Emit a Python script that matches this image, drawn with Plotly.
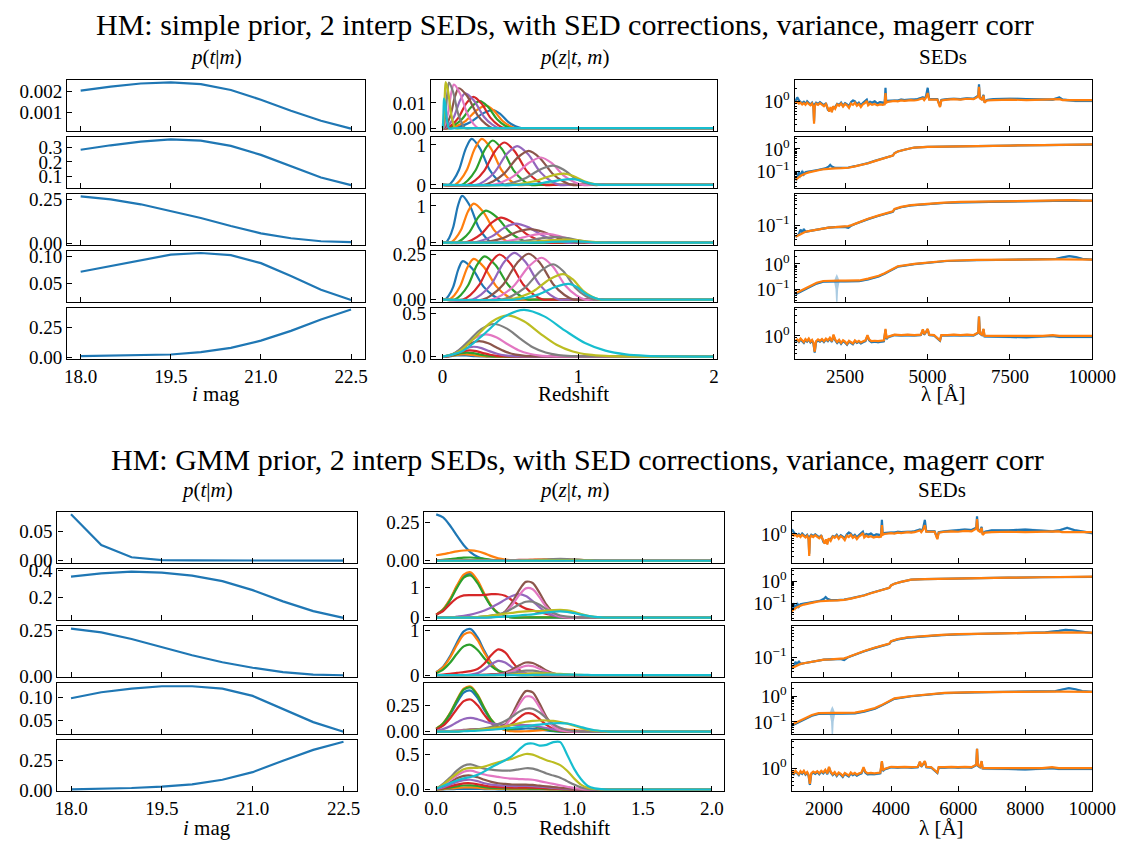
import numpy as np
import plotly.graph_objects as go

FIG_W, FIG_H = 1142, 853
SERIF = "Liberation Serif, Times New Roman, DejaVu Serif, serif"
TAB10 = ['#1f77b4', '#ff7f0e', '#2ca02c', '#d62728', '#9467bd',
         '#8c564b', '#e377c2', '#7f7f7f', '#bcbd22', '#17becf']

# ---------------------------------------------------------------- p(t|m)
i_mag = [18.0, 18.5, 19.0, 19.5, 20.0, 20.5, 21.0, 21.5, 22.0, 22.5]

ptm_simple = [
    [0.00203, 0.00222, 0.00237, 0.00242, 0.00234, 0.00206, 0.0016, 0.00108, 0.0006, 0.00023],
    [0.284, 0.315, 0.34, 0.356, 0.347, 0.311, 0.249, 0.173, 0.093, 0.04],
    [0.267, 0.25, 0.222, 0.185, 0.144, 0.098, 0.056, 0.028, 0.011, 0.006],
    [0.0719, 0.083, 0.094, 0.104, 0.107, 0.103, 0.088, 0.064, 0.038, 0.019],
    [0.008, 0.011, 0.014, 0.022, 0.042, 0.078, 0.139, 0.222, 0.319, 0.403],
]
ptm_gmm = [
    [0.080, 0.027, 0.0057, 0.0008, 0.0002, 0.0001, 0.0, 0.0, 0.0, 0.0],
    [0.354, 0.378, 0.39, 0.383, 0.361, 0.32, 0.253, 0.169, 0.096, 0.046],
    [0.259, 0.238, 0.202, 0.157, 0.113, 0.075, 0.045, 0.021, 0.007, 0.004],
    [0.098, 0.111, 0.119, 0.124, 0.124, 0.119, 0.103, 0.075, 0.046, 0.025],
    [0.008, 0.011, 0.019, 0.031, 0.05, 0.089, 0.153, 0.25, 0.342, 0.411],
]

# ---------------------------------------------------- p(z|t,m), simple prior
# one (z, p) curve per magnitude bin, 18.0 ... 22.5
pz_simple_1_z = [
    [0, .07, .13, .205, .295, .37, .423, .486, .538, .58, .64, 2.0],
    [0, .05, .104, .172, .253, .32, .375, .441, .496, .54, .60, 2.0],
    [0, .035, .083, .143, .215, .275, .333, .402, .459, .505, .565, 2.0],
    [0, .027, .067, .117, .177, .227, .285, .354, .411, .457, .517, 2.0],
    [0, .017, .047, .085, .13, .167, .23, .305, .367, .417, .477, 2.0],
    [0, .01, .032, .06, .093, .12, .183, .258, .32, .37, .43, 2.0],
    [0, .004, .02, .04, .064, .084, .129, .183, .228, .264, .324, 2.0],
    [0, .003, .012, .023, .037, .048, .078, .114, .144, .168, .228, 2.0],
    [0, .002, .0064, .0119, .0185, .024, .0415, .0625, .08, .094, .154, 2.0],
    [0, .001, .0032, .006, .0093, .012, .0208, .0313, .04, .047, .107, 2.0],
]
pz_simple_1_p = [
    [0, 0, .00072, .00238, .00576, .0072, .00576, .00238, .00072, 0, 0, 0],
    [0, 0, .00089, .00294, .00712, .0089, .00712, .00294, .00089, 0, 0, 0],
    [0, 0, .00107, .00353, .00856, .0107, .00856, .00353, .00107, 0, 0, 0],
    [0, 0, .00124, .00409, .00992, .0124, .00992, .00409, .00124, 0, 0, 0],
    [0, 0, .00138, .00455, .01104, .0138, .01104, .00455, .00138, 0, 0, 0],
    [0, 0, .00158, .00521, .01264, .0158, .01264, .00521, .00158, 0, 0, 0],
    [0, 0, .00172, .00568, .01376, .0172, .01376, .00568, .00172, 0, 0, 0],
    [0, 0, .0018, .00594, .0144, .018, .0144, .00594, .0018, 0, 0, 0],
    [0, 0, .00182, .00601, .01456, .0182, .01456, .00601, .00182, 0, 0, 0],
    [0, 0, .00117, .00386, .00936, .0117, .00936, .00386, .00117, 0, 0, 0],
]

pz_simple_2_z = [
    [0, .045, .079, .122, .173, .215, .275, .347, .407, .455, .515, 2.0],
    [0, .09, .13, .18, .24, .29, .355, .433, .498, .55, .61, 2.0],
    [0, .14, .186, .244, .313, .37, .44, .524, .594, .65, .71, 2.0],
    [0, .185, .239, .307, .388, .455, .53, .62, .695, .755, .815, 2.0],
    [0, .25, .31, .385, .475, .55, .628, .721, .798, .86, .92, 2.0],
    [0, .305, .371, .454, .553, .635, .715, .811, .891, .955, 1.015, 2.0],
    [0, .365, .437, .527, .635, .725, .803, .896, .973, 1.035, 1.095, 2.0],
    [0, .435, .511, .606, .72, .815, .89, .98, 1.055, 1.115, 1.175, 2.0],
    [0, .495, .575, .675, .795, .895, .963, 1.044, 1.111, 1.165, 1.225, 2.0],
    [0, .555, .635, .735, .855, .955, 1.01, 1.076, 1.131, 1.175, 1.235, 2.0],
]
pz_simple_2_p = [
    [0, 0, .115, .38, .92, 1.15, .92, .38, .115, 0, 0, 0],
    [0, 0, .115, .38, .92, 1.15, .92, .38, .115, 0, 0, 0],
    [0, 0, .111, .366, .888, 1.11, .888, .366, .111, 0, 0, 0],
    [0, 0, .106, .35, .848, 1.06, .848, .35, .106, 0, 0, 0],
    [0, 0, .097, .32, .776, .97, .776, .32, .097, 0, 0, 0],
    [0, 0, .085, .281, .68, .85, .68, .281, .085, 0, 0, 0],
    [0, 0, .069, .226, .548, .685, .548, .226, .069, 0, 0, 0],
    [0, 0, .048, .158, .384, .48, .384, .158, .048, 0, 0, 0],
    [0, 0, .028, .092, .224, .28, .224, .092, .028, 0, 0, 0],
    [0, 0, .0145, .048, .116, .145, .116, .048, .0145, 0, 0, 0],
]

pz_simple_3_z = [
    [0, .025, .049, .079, .115, .145, .2, .266, .321, .365, .425, 2.0],
    [0, .06, .094, .137, .188, .23, .298, .379, .446, .5, .56, 2.0],
    [0, .1, .144, .199, .265, .32, .4, .496, .576, .64, .7, 2.0],
    [0, .16, .214, .282, .363, .43, .518, .623, .71, .78, .84, 2.0],
    [0, .22, .284, .364, .46, .54, .635, .749, .844, .92, .98, 2.0],
    [0, .275, .349, .442, .553, .645, .74, .854, .949, 1.025, 1.085, 2.0],
    [0, .35, .43, .53, .65, .75, .843, .954, 1.046, 1.12, 1.18, 2.0],
    [0, .42, .504, .609, .735, .84, .923, 1.022, 1.104, 1.17, 1.23, 2.0],
    [0, .49, .574, .679, .805, .91, .985, 1.075, 1.15, 1.21, 1.27, 2.0],
    [0, .57, .65, .75, .87, .97, 1.033, 1.108, 1.17, 1.22, 1.28, 2.0],
]
pz_simple_3_p = [
    [0, 0, .127, .419, 1.016, 1.27, 1.016, .419, .127, 0, 0, 0],
    [0, 0, .106, .35, .848, 1.06, .848, .35, .106, 0, 0, 0],
    [0, 0, .087, .287, .696, .87, .696, .287, .087, 0, 0, 0],
    [0, 0, .068, .224, .544, .68, .544, .224, .068, 0, 0, 0],
    [0, 0, .052, .172, .416, .52, .416, .172, .052, 0, 0, 0],
    [0, 0, .037, .122, .296, .37, .296, .122, .037, 0, 0, 0],
    [0, 0, .0245, .081, .196, .245, .196, .081, .0245, 0, 0, 0],
    [0, 0, .0155, .051, .124, .155, .124, .051, .0155, 0, 0, 0],
    [0, 0, .0085, .028, .068, .085, .068, .028, .0085, 0, 0, 0],
    [0, 0, .0035, .0116, .028, .035, .028, .0116, .0035, 0, 0, 0],
]

pz_simple_4_z = [
    [0, .02, .046, .079, .118, .15, .22, .304, .374, .43, .49, 2.0],
    [0, .05, .086, .131, .185, .23, .305, .395, .47, .53, .59, 2.0],
    [0, .09, .134, .189, .255, .31, .39, .486, .566, .63, .69, 2.0],
    [0, .15, .204, .272, .353, .42, .5, .596, .676, .74, .8, 2.0],
    [0, .22, .282, .36, .453, .53, .613, .712, .794, .86, .92, 2.0],
    [0, .295, .363, .448, .55, .635, .718, .817, .899, .965, 1.025, 2.0],
    [0, .36, .434, .527, .638, .73, .81, .906, .986, 1.05, 1.11, 2.0],
    [0, .435, .511, .606, .72, .815, .89, .98, 1.055, 1.115, 1.175, 2.0],
    [0, .49, .57, .67, .79, .89, .958, 1.039, 1.106, 1.16, 1.22, 2.0],
    [0, .53, .61, .71, .83, .93, .99, 1.062, 1.122, 1.17, 1.23, 2.0],
]
pz_simple_4_p = [
    [0, 0, .0213, .0703, .1704, .213, .1704, .0703, .0213, 0, 0, 0],
    [0, 0, .0226, .0746, .1808, .226, .1808, .0746, .0226, 0, 0, 0],
    [0, 0, .024, .0792, .192, .24, .192, .0792, .024, 0, 0, 0],
    [0, 0, .025, .0825, .2, .25, .2, .0825, .025, 0, 0, 0],
    [0, 0, .0259, .0855, .2072, .259, .2072, .0855, .0259, 0, 0, 0],
    [0, 0, .0254, .0838, .2032, .254, .2032, .0838, .0254, 0, 0, 0],
    [0, 0, .0232, .0766, .1856, .232, .1856, .0766, .0232, 0, 0, 0],
    [0, 0, .0196, .0647, .1568, .196, .1568, .0647, .0196, 0, 0, 0],
    [0, 0, .0141, .0465, .1128, .141, .1128, .0465, .0141, 0, 0, 0],
    [0, 0, .0087, .0287, .0696, .087, .0696, .0287, .0087, 0, 0, 0],
]

pz_simple_5_z = [
    [0, .035, .07, .105, .14, .175, .21, .245, .28, .315, .35, .392, 2.0],
    [0, .04, .08, .12, .16, .2, .24, .28, .32, .36, .4, .448, 2.0],
    [0, .045, .09, .135, .18, .225, .27, .315, .36, .405, .45, .504, 2.0],
    [0, .05, .1, .15, .2, .25, .3, .35, .4, .45, .5, .56, 2.0],
    [0, .0575, .115, .1725, .23, .2875, .345, .4025, .46, .5175, .575, .644, 2.0],
    [0, .0675, .135, .2025, .27, .3375, .405, .4725, .54, .6075, .675, .756, 2.0],
    [0, .08, .16, .24, .32, .4, .48, .56, .64, .72, .8, .896, 2.0],
    [0, .095, .19, .285, .38, .475, .57, .665, .76, .855, .95, 1.064, 2.0],
    [0, .12, .24, .36, .48, .6, .72, .84, .96, 1.08, 1.2, 1.344, 2.0],
    [0, .15, .3, .45, .6, .75, .9, 1.05, 1.2, 1.35, 1.5, 1.68, 2.0],
]
pz_simple_5_p = [
    [0, .002, .007, .013, .015, .013, .008, .004, .002, .001, 0, 0, 0],
    [0, .003, .013, .023, .027, .023, .015, .008, .003, .001, 0, 0, 0],
    [0, .006, .021, .039, .046, .04, .026, .013, .006, .002, .001, 0, 0],
    [0, .009, .034, .061, .073, .063, .041, .021, .009, .004, .001, 0, 0],
    [0, .014, .054, .097, .115, .099, .064, .033, .014, .006, .002, 0, 0],
    [0, .022, .084, .152, .18, .155, .101, .052, .023, .009, .003, .001, 0],
    [0, .031, .12, .217, .258, .222, .144, .075, .033, .012, .004, .001, 0],
    [0, .046, .177, .32, .38, .326, .213, .11, .048, .018, .006, .002, 0],
    [0, .058, .224, .404, .48, .412, .269, .139, .06, .023, .008, .002, 0],
    [0, .066, .254, .46, .546, .469, .306, .158, .069, .026, .009, .002, 0],
]

# ------------------------------------------------------- p(z|t,m), GMM prior
z_gmm = [0.0, 0.05, 0.1, 0.15, 0.2, 0.25, 0.3, 0.35, 0.4, 0.45,
         0.5, 0.55, 0.6, 0.65, 0.7, 0.75, 0.8, 0.85, 0.9, 0.95,
         1.0, 1.05, 1.1, 1.15, 1.2, 1.25, 1.3, 2.0]

pz_gmm_1 = [
    [.303, .283, .23, .164, .101, .055, .026, .011, .004, .001, 0, 0, 0, 0, 0, 0, 0, 0, 0, 0, 0, 0, 0, 0, 0, 0, 0, 0],
    [.036, .043, .052, .061, .067, .068, .062, .048, .03, .016, .008, .004, .003, .004, .006, .008, .009, .01, .01, .009, .007, .005, .003, .001, 0, 0, 0, 0],
    [.003, .006, .011, .016, .02, .021, .018, .012, .006, .003, .001, 0, 0, .001, .001, .002, .002, .002, .002, .002, .001, .001, 0, 0, 0, 0, 0, 0],
    [0, 0, .001, .001, .002, .002, .002, .002, .003, .003, .004, .004, .005, .005, .005, .005, .004, .004, .003, .002, .001, .001, 0, 0, 0, 0, 0, 0],
    [0, 0, 0, 0, 0, .001, .001, .001, .001, .001, .001, .001, .001, .001, .001, .001, .001, .001, .001, 0, 0, 0, 0, 0, 0, 0, 0, 0],
    [0, 0, 0, 0, 0, 0, 0, 0, 0, .001, .001, .002, .002, .003, .003, .002, .002, .001, .001, 0, 0, 0, 0, 0, 0, 0, 0, 0],
    [0, 0, 0, 0, 0, 0, 0, 0, 0, 0, 0, .001, .001, .001, .002, .002, .002, .002, .002, .001, .001, 0, 0, 0, 0, 0, 0, 0],
    [0, 0, 0, 0, 0, 0, 0, 0, 0, 0, 0, 0, 0, .001, .003, .005, .008, .011, .012, .011, .009, .006, .003, .001, 0, 0, 0, 0],
    [0, 0, 0, 0, 0, 0, 0, 0, 0, 0, 0, 0, 0, .001, .001, .002, .002, .003, .003, .003, .002, .001, .001, 0, 0, 0, 0, 0],
    [0, 0, 0, 0, 0, 0, 0, 0, 0, 0, 0, 0, 0, 0, 0, 0, 0, 0, 0, 0, 0, 0, 0, 0, 0, 0, 0, 0],
]
pz_gmm_2 = [
    [.093, .268, .595, 1.032, 1.391, 1.464, 1.199, .764, .38, .147, .044, .01, 0, 0, 0, 0, 0, 0, 0, 0, 0, 0, 0, 0, 0, 0, 0, 0],
    [.096, .277, .615, 1.066, 1.438, 1.513, 1.239, .789, .393, .151, .046, .011, .005, .008, .012, .016, .018, .017, .014, .01, .006, .003, .001, 0, 0, 0, 0, 0],
    [.089, .257, .571, .99, 1.335, 1.404, 1.15, .733, .365, .141, .043, .01, .002, .004, .006, .008, .008, .007, .005, .003, .001, 0, 0, 0, 0, 0, 0, 0],
    [.1, .22, .45, .65, .74, .75, .75, .76, .78, .78, .73, .58, .42, .3, .24, .18, .12, .07, .035, .012, .003, 0, 0, 0, 0, 0, 0, 0],
    [0, 0, 0, .03, .06, .1, .16, .24, .34, .46, .6, .72, .78, .72, .55, .34, .17, .07, .02, .005, 0, 0, 0, 0, 0, 0, 0, 0],
    [0, 0, 0, 0, 0, 0, .002, .005, .013, .061, .205, .501, .902, 1.191, 1.154, .822, .429, .165, .046, .01, 0, 0, 0, 0, 0, 0, 0, 0],
    [0, 0, 0, 0, 0, 0, .002, .004, .011, .05, .168, .411, .739, .976, .946, .674, .352, .135, .038, .008, 0, 0, 0, 0, 0, 0, 0, 0],
    [0, 0, 0, 0, 0, .01, .02, .04, .07, .11, .18, .3, .43, .53, .53, .43, .28, .15, .07, .03, .01, 0, 0, 0, 0, 0, 0, 0],
    [0, 0, 0, 0, 0, 0, .02, .04, .07, .1, .13, .16, .19, .21, .22, .22, .23, .25, .26, .24, .19, .12, .06, .025, .008, 0, 0, 0],
    [0, 0, 0, 0, 0, 0, 0, 0, .01, .02, .035, .05, .07, .09, .11, .14, .17, .195, .205, .19, .15, .1, .055, .025, .008, 0, 0, 0],
]
pz_gmm_3 = [
    [.065, .187, .416, .721, .973, 1.024, .838, .534, .266, .102, .031, .007, 0, 0, 0, 0, 0, 0, 0, 0, 0, 0, 0, 0, 0, 0, 0, 0],
    [.06, .174, .386, .669, .902, .949, .778, .495, .247, .095, .029, .007, 0, 0, 0, 0, 0, 0, 0, 0, 0, 0, 0, 0, 0, 0, 0, 0],
    [.043, .123, .273, .474, .639, .673, .56, .37, .2, .1, .05, .02, .005, 0, 0, 0, 0, 0, 0, 0, 0, 0, 0, 0, 0, 0, 0, 0],
    [.004, .013, .028, .049, .066, .087, .134, .258, .448, .572, .505, .303, .123, .034, .006, 0, 0, 0, 0, 0, 0, 0, 0, 0, 0, 0, 0, 0],
    [0, 0, 0, 0, 0, .01, .043, .124, .242, .317, .282, .17, .08, .04, .03, .02, .01, 0, 0, 0, 0, 0, 0, 0, 0, 0, 0, 0],
    [0, 0, 0, 0, 0, 0, .005, .01, .02, .03, .06, .125, .215, .28, .27, .195, .105, .04, .012, .003, 0, 0, 0, 0, 0, 0, 0, 0],
    [0, 0, 0, 0, 0, 0, 0, 0, .003, .011, .035, .086, .155, .205, .199, .142, .074, .028, .008, .002, 0, 0, 0, 0, 0, 0, 0, 0],
    [0, 0, 0, 0, 0, 0, 0, 0, 0, .005, .02, .045, .075, .098, .098, .075, .045, .022, .01, .004, 0, 0, 0, 0, 0, 0, 0, 0],
    [0, 0, 0, 0, 0, 0, 0, 0, 0, 0, 0, .01, .02, .03, .038, .04, .038, .032, .025, .015, .008, .003, 0, 0, 0, 0, 0, 0],
    [0, 0, 0, 0, 0, 0, 0, 0, 0, 0, 0, 0, 0, 0, .004, .006, .009, .011, .012, .011, .009, .006, .003, 0, 0, 0, 0, 0],
]
pz_gmm_4 = [
    [.025, .071, .157, .272, .367, .386, .316, .201, .1, .04, .017, .015, .022, .029, .028, .02, .011, .004, 0, 0, 0, 0, 0, 0, 0, 0, 0, 0],
    [.027, .078, .173, .3, .404, .425, .348, .222, .111, .043, .013, .003, .001, .003, .006, .01, .015, .019, .02, .019, .015, .01, .006, .003, 0, 0, 0, 0],
    [.026, .076, .169, .293, .395, .415, .34, .217, .109, .045, .022, .026, .041, .054, .052, .037, .019, .007, .002, 0, 0, 0, 0, 0, 0, 0, 0, 0],
    [.019, .055, .123, .213, .287, .302, .247, .157, .08, .039, .038, .074, .129, .171, .166, .118, .062, .024, .007, .001, 0, 0, 0, 0, 0, 0, 0, 0],
    [.008, .023, .05, .087, .118, .129, .116, .095, .077, .067, .064, .063, .062, .06, .055, .045, .033, .02, .01, .004, 0, 0, 0, 0, 0, 0, 0, 0],
    [0, 0, .005, .01, .015, .02, .022, .022, .024, .038, .066, .16, .288, .381, .369, .263, .137, .053, .015, .003, 0, 0, 0, 0, 0, 0, 0, 0],
    [0, 0, .004, .008, .012, .015, .017, .018, .02, .03, .057, .139, .25, .33, .32, .228, .119, .046, .013, .003, 0, 0, 0, 0, 0, 0, 0, 0],
    [0, 0, 0, 0, .01, .015, .02, .03, .045, .07, .1, .14, .185, .215, .215, .18, .125, .07, .035, .015, .005, 0, 0, 0, 0, 0, 0, 0],
    [0, 0, 0, 0, .005, .01, .015, .022, .03, .04, .05, .062, .078, .092, .1, .104, .104, .1, .09, .075, .055, .035, .018, .008, .003, 0, 0, 0],
    [0, 0, 0, 0, .003, .005, .008, .012, .017, .022, .028, .035, .042, .05, .058, .066, .073, .078, .08, .076, .062, .043, .025, .012, .005, 0, 0, 0],
]
pz_gmm_5 = [
    [0, .002, .005, .008, .01, .01, .008, .006, .004, .003, .002, .002, .002, .002, .002, .001, 0, 0, 0, 0, 0, 0, 0, 0, 0, 0, 0, 0],
    [.001, .006, .014, .023, .029, .03, .025, .017, .011, .008, .007, .006, .006, .006, .005, .004, .003, .002, 0, 0, 0, 0, 0, 0, 0, 0, 0, 0],
    [.002, .012, .028, .045, .057, .06, .05, .035, .024, .018, .015, .014, .014, .014, .013, .011, .008, .005, .003, 0, 0, 0, 0, 0, 0, 0, 0, 0],
    [.003, .02, .045, .07, .088, .09, .075, .055, .04, .033, .03, .028, .028, .028, .026, .022, .017, .012, .008, .004, 0, 0, 0, 0, 0, 0, 0, 0],
    [.005, .03, .07, .11, .135, .14, .12, .09, .07, .06, .055, .05, .05, .05, .047, .04, .032, .024, .016, .009, .004, 0, 0, 0, 0, 0, 0, 0],
    [.01, .05, .1, .16, .195, .2, .175, .14, .11, .09, .08, .072, .07, .07, .065, .055, .045, .035, .025, .015, .007, 0, 0, 0, 0, 0, 0, 0],
    [.01, .06, .13, .2, .255, .27, .245, .215, .195, .18, .165, .155, .15, .145, .14, .12, .1, .08, .06, .04, .02, .008, 0, 0, 0, 0, 0, 0],
    [.01, .08, .17, .27, .34, .36, .33, .3, .285, .275, .27, .275, .29, .305, .3, .27, .23, .2, .17, .12, .07, .03, .01, 0, 0, 0, 0, 0],
    [.01, .07, .15, .23, .29, .31, .31, .33, .36, .39, .42, .44, .48, .51, .5, .46, .42, .39, .35, .27, .16, .07, .025, .007, 0, 0, 0, 0],
    [.01, .05, .09, .13, .16, .18, .21, .26, .32, .37, .42, .48, .57, .65, .66, .63, .64, .68, .68, .5, .3, .15, .05, .015, .004, 0, 0, 0],
]

# ------------------------------------------------------------------ SEDs
# wavelengths in Angstrom, fluxes stored as log10(f)
sed_wave_1 = [1000, 1050, 1100, 1150, 1200, 1250, 1300, 1350, 1400, 1450,
              1500, 1540, 1560, 1580, 1620, 1680, 1740, 1800, 1860, 1920,
              1980, 2020, 2060, 2100, 2140, 2200, 2260, 2320, 2380, 2440,
              2500, 2560, 2620, 2680, 2740, 2800, 2860, 2920, 2980, 3040,
              3100, 3160, 3200, 3260, 3320, 3400, 3480, 3560, 3640, 3700,
              3727, 3750, 3800, 3900, 4000, 4100, 4200, 4300, 4400, 4500,
              4600, 4700, 4861, 4900, 4959, 5007, 5050, 5200, 5300, 5380,
              5420, 5600, 5800, 6000, 6200, 6400, 6540, 6563, 6590, 6650,
              6700, 6730, 6800, 7000, 7500, 8000, 8500, 8800, 9000, 9100,
              9250, 9500, 10000]
sed_orange_1 = [-0.03, 0.00, -0.04, -0.02, -0.06, -0.03, -0.07, -0.02, -0.05, -0.08,
                -0.04, -0.12, -0.50, -0.10, -0.04, -0.07, -0.03, -0.06, -0.10, -0.05,
                -0.14, -0.22, -0.12, -0.24, -0.10, -0.16, -0.06, -0.09, -0.04, -0.11,
                -0.05, -0.08, -0.14, -0.04, -0.07, -0.02, -0.09, -0.05, -0.12, -0.06,
                -0.03, 0.02, -0.08, -0.04, -0.07, -0.05, -0.08, -0.06, -0.07, -0.06,
                0.20, -0.02, 0.00, 0.01, 0.02, 0.01, 0.03, 0.02, 0.03, 0.04,
                0.03, 0.04, 0.08, 0.04, 0.10, 0.20, 0.05, 0.04, 0.05, -0.12,
                0.03, 0.05, 0.06, 0.05, 0.07, 0.06, 0.12, 0.34, 0.08, 0.05,
                0.14, -0.02, 0.03, 0.04, 0.05, 0.04, 0.05, 0.04, 0.06, 0.04,
                0.04, 0.04, 0.04]
sed_blue_1 = [0.02, 0.10, 0.04, -0.01, -0.03, 0.00, -0.05, 0.01, -0.03, -0.06,
              -0.02, -0.08, -0.45, -0.06, -0.02, -0.05, -0.01, -0.04, -0.08, -0.03,
              -0.18, -0.20, -0.16, -0.20, -0.14, -0.12, -0.05, -0.07, -0.02, -0.09,
              -0.03, -0.06, -0.10, -0.01, 0.03, 0.01, -0.06, -0.02, -0.08, -0.03,
              0.00, 0.05, -0.05, 0.00, -0.02, 0.01, -0.04, -0.01, -0.02, -0.03,
              0.32, 0.00, 0.02, 0.03, 0.03, 0.03, 0.05, 0.04, 0.05, 0.05,
              0.05, 0.06, 0.10, 0.05, 0.14, 0.32, 0.06, 0.05, 0.06, -0.10,
              0.04, 0.06, 0.07, 0.06, 0.08, 0.07, 0.14, 0.40, 0.09, 0.06,
              0.16, -0.01, 0.04, 0.06, 0.07, 0.06, 0.06, 0.05, 0.10, 0.05,
              0.04, 0.02, 0.02]
# corrected template in the GMM run: red end differs from 5420 A onward
sed_blue_1_gmm_red = [0.04, 0.06, 0.07, 0.09, 0.10, 0.09, 0.14, 0.40, 0.09, 0.07,
                      0.16, 0.00, 0.05, 0.08, 0.08, 0.10, 0.07, 0.06, 0.08, 0.11,
                      0.14, 0.08, 0.02]

sed_wave_2 = [1000, 1050, 1100, 1150, 1200, 1250, 1300, 1400, 1500, 1600,
              1700, 1800, 1900, 2000, 2050, 2100, 2200, 2400, 2600, 2800,
              3000, 3200, 3400, 3600, 3700, 3800, 3950, 4000, 4100, 4300,
              4600, 5000, 5600, 6500, 7500, 8500, 9500, 10000]
sed_orange_2 = [-1.40, -1.33, -1.27, -1.22, -1.18, -1.14, -1.11, -1.06, -1.02, -0.99,
                -0.96, -0.93, -0.91, -0.89, -0.88, -0.88, -0.88, -0.87, -0.85, -0.79,
                -0.73, -0.65, -0.55, -0.46, -0.42, -0.37, -0.30, -0.20, -0.12, -0.04,
                0.06, 0.09, 0.11, 0.13, 0.15, 0.17, 0.19, 0.20]
sed_blue_2 = [-1.36, -1.30, -1.05, -1.22, -1.00, -1.15, -1.05, -1.03, -1.00, -0.97,
              -0.94, -0.91, -0.88, -0.80, -0.72, -0.80, -0.86, -0.86, -0.84, -0.78,
              -0.72, -0.64, -0.54, -0.45, -0.40, -0.36, -0.30, -0.19, -0.12, -0.04,
              0.06, 0.09, 0.11, 0.13, 0.15, 0.17, 0.18, 0.19]
sed_sigma_2 = [0.35, 0.3, 0.3, 0.25, 0.25, 0.2, 0.15, 0.12, 0.1, 0.08,
               0.07, 0.07, 0.07, 0.07, 0.07, 0.07, 0.07, 0.07, 0.07, 0.07,
               0.07, 0.07, 0.07, 0.07, 0.07, 0.07, 0.07, 0.07, 0.07, 0.07,
               0.07, 0.07, 0.07, 0.07, 0.07, 0.07, 0.07, 0.07]

sed_wave_3 = [1000, 1100, 1150, 1200, 1250, 1300, 1400, 1600, 1800, 2000,
              2200, 2400, 2500, 2600, 2700, 2800, 3000, 3200, 3500, 3700,
              3900, 3950, 4000, 4200, 4500, 5000, 5500, 6000, 7000, 8000,
              8600, 9000, 9200, 9400, 9700, 10000]
sed_orange_3 = [-1.32, -1.27, -1.25, -1.22, -1.20, -1.18, -1.16, -1.12, -1.09, -1.06,
                -1.05, -1.04, -1.03, -1.02, -0.99, -0.95, -0.87, -0.81, -0.72, -0.67,
                -0.63, -0.60, -0.53, -0.47, -0.42, -0.38, -0.35, -0.33, -0.31, -0.29,
                -0.28, -0.28, -0.28, -0.28, -0.29, -0.29]
sed_blue_3 = [-1.33, -1.25, -1.12, -1.20, -1.10, -1.18, -1.16, -1.12, -1.09, -1.06,
              -1.05, -1.05, -1.04, -1.07, -1.00, -0.96, -0.88, -0.82, -0.73, -0.68,
              -0.64, -0.61, -0.54, -0.48, -0.43, -0.39, -0.36, -0.34, -0.32, -0.30,
              -0.29, -0.29, -0.29, -0.29, -0.30, -0.30]
# GMM run: red end of the corrected template (8600 A onward)
sed_blue_3_gmm_red = [-0.28, -0.24, -0.21, -0.22, -0.27, -0.30]

sed_wave_4 = [1000, 1200, 1400, 1640, 1840, 2000, 2170, 2210, 2250, 2290,
              2330, 2500, 2926, 3200, 3520, 3700, 3914, 4100, 4605, 5100,
              5590, 6500, 7500, 8500, 8900, 9100, 9300, 9500, 9700, 10000]
sed_orange_4 = [-1.13, -1.00, -0.87, -0.73, -0.66, -0.65, -0.65, -0.65, -0.65, -0.65,
                -0.65, -0.65, -0.64, -0.57, -0.46, -0.36, -0.20, -0.09, 0.00, 0.07,
                0.12, 0.15, 0.17, 0.17, 0.17, 0.17, 0.17, 0.17, 0.17, 0.16]
sed_blue_4 = [-1.17, -1.04, -0.90, -0.76, -0.69, -0.68, -0.68, -0.68, -0.68, -0.68,
              -0.68, -0.68, -0.67, -0.60, -0.49, -0.38, -0.22, -0.11, -0.01, 0.06,
              0.11, 0.14, 0.16, 0.17, 0.19, 0.25, 0.30, 0.26, 0.19, 0.16]
sed_sigma_4 = [0.1, 0.07, 0.07, 0.07, 0.07, 0.07, 0.07, 0.5, 0.96, 0.5,
               0.07, 0.07, 0.07, 0.07, 0.07, 0.07, 0.07, 0.07, 0.07, 0.07,
               0.07, 0.07, 0.07, 0.07, 0.07, 0.07, 0.07, 0.07, 0.07, 0.07]

sed_wave_5 = [1000, 1050, 1100, 1150, 1200, 1250, 1300, 1350, 1400, 1450,
              1500, 1540, 1580, 1620, 1680, 1740, 1800, 1860, 1920, 1980,
              2040, 2100, 2150, 2200, 2260, 2320, 2380, 2440, 2500, 2560,
              2620, 2680, 2740, 2800, 2860, 2920, 2980, 3050, 3120, 3180,
              3230, 3300, 3400, 3500, 3600, 3680, 3727, 3760, 3800, 3900,
              4000, 4200, 4400, 4600, 4800, 4861, 4900, 4959, 5007, 5050,
              5200, 5380, 5420, 5600, 5800, 6000, 6200, 6400, 6540, 6563,
              6590, 6650, 6700, 6730, 6800, 7000, 7500, 8000, 8500, 8800,
              9000, 9500, 10000]
sed_orange_5 = [-0.11, -0.08, -0.12, -0.06, -0.10, -0.14, -0.07, -0.11, -0.06, -0.13,
                -0.09, -0.15, -0.36, -0.12, -0.08, -0.11, -0.07, -0.12, -0.06, -0.10,
                -0.04, -0.12, 0.03, -0.08, -0.14, -0.09, -0.16, -0.10, -0.13, -0.18,
                -0.11, -0.15, -0.17, -0.10, -0.14, -0.11, -0.15, -0.12, -0.10, 0.02,
                -0.08, -0.12, -0.11, -0.12, -0.11, -0.10, 0.16, -0.05, -0.02, 0.01,
                0.03, 0.02, 0.03, 0.02, 0.03, 0.15, 0.04, 0.10, 0.16, 0.03,
                0.02, -0.10, 0.02, 0.02, 0.03, 0.02, 0.03, 0.02, 0.08, 0.44,
                0.06, 0.03, 0.16, 0.00, 0.00, 0.00, 0.00, -0.01, 0.00, 0.02,
                0.00, 0.00, 0.00]
sed_blue_5 = [-0.13, -0.10, -0.14, -0.08, -0.12, -0.16, -0.09, -0.13, -0.08, -0.15,
              -0.11, -0.17, -0.38, -0.14, -0.10, -0.13, -0.09, -0.14, -0.08, -0.12,
              -0.06, -0.14, 0.01, -0.10, -0.16, -0.11, -0.18, -0.12, -0.15, -0.20,
              -0.13, -0.17, -0.19, -0.12, -0.16, -0.13, -0.17, -0.14, -0.12, 0.00,
              -0.10, -0.14, -0.13, -0.14, -0.13, -0.12, 0.14, -0.07, -0.03, 0.00,
              0.02, 0.01, 0.02, 0.01, 0.02, 0.14, 0.03, 0.09, 0.15, 0.02,
              0.01, -0.11, 0.01, 0.01, 0.02, 0.01, 0.02, 0.01, 0.07, 0.44,
              0.05, 0.02, 0.15, -0.01, -0.01, -0.01, -0.02, -0.03, -0.02, 0.00,
              -0.02, -0.02, -0.02]
SED_SIGMA = 0.07   # fractional width of the template band where not tabulated

# ------------------------------------------------------------ geometry (px)
ROW_H, ROW_STEP = 52.0, 58.3
PANEL_GEOM = [
    dict(cols=[(65.7, 370.3), (438.3, 731.0), (810.7, 1115.7)], top=72.5),
    dict(cols=[(55.7, 362.7), (431.7, 738.7), (807.7, 1115.7)], top=514.5),
]

fig = go.Figure()


def ax_ids(k):
    return ('x' if k == 1 else f'x{k}'), ('y' if k == 1 else f'y{k}')


def add_line(k, x, y, color, width=2.2, spline=False, smoothing=1.0):
    xa, ya = ax_ids(k)
    ln = dict(color=color, width=width)
    if spline:
        ln.update(shape='spline', smoothing=smoothing)
    fig.add_trace(go.Scatter(x=x, y=y, mode='lines', line=ln, xaxis=xa, yaxis=ya,
                             showlegend=False, hoverinfo='skip'))


def add_band(k, x, lo, hi):
    xa, ya = ax_ids(k)
    fig.add_trace(go.Scatter(x=x, y=lo, mode='lines', line=dict(width=0, color='rgba(0,0,0,0)'),
                             xaxis=xa, yaxis=ya, showlegend=False, hoverinfo='skip'))
    fig.add_trace(go.Scatter(x=x, y=hi, mode='lines', line=dict(width=0, color='rgba(0,0,0,0)'),
                             fill='tonexty', fillcolor='rgba(31,119,180,0.38)',
                             xaxis=xa, yaxis=ya, showlegend=False, hoverinfo='skip'))


def kidx(panel, row, col):
    return panel * 15 + row * 3 + col + 1


# ---- p(t|m)
for p, ptm in enumerate([ptm_simple, ptm_gmm]):
    for r in range(5):
        add_line(kidx(p, r, 0), i_mag, ptm[r], TAB10[0])

# ---- p(z|t,m)
simple_rows = [(pz_simple_1_z, pz_simple_1_p), (pz_simple_2_z, pz_simple_2_p),
               (pz_simple_3_z, pz_simple_3_p), (pz_simple_4_z, pz_simple_4_p),
               (pz_simple_5_z, pz_simple_5_p)]
for r, (zz, pp) in enumerate(simple_rows):
    for j in range(10):
        add_line(kidx(0, r, 1), zz[j], pp[j], TAB10[j], spline=True, smoothing=0.9)

gmm_rows = [pz_gmm_1, pz_gmm_2, pz_gmm_3, pz_gmm_4, pz_gmm_5]
for r, rows in enumerate(gmm_rows):
    for j in range(10):
        add_line(kidx(1, r, 1), z_gmm, rows[j], TAB10[j], spline=True, smoothing=0.8)

# ---- SEDs
sed_blue_1_gmm = sed_blue_1[:len(sed_blue_1) - len(sed_blue_1_gmm_red)] + sed_blue_1_gmm_red
sed_blue_3_gmm = sed_blue_3[:len(sed_blue_3) - len(sed_blue_3_gmm_red)] + sed_blue_3_gmm_red

sed_sets = {
    0: [(sed_wave_1, sed_orange_1, sed_blue_1, None),
        (sed_wave_2, sed_orange_2, sed_blue_2, sed_sigma_2),
        (sed_wave_3, sed_orange_3, sed_blue_3, None),
        (sed_wave_4, sed_orange_4, sed_blue_4, sed_sigma_4),
        (sed_wave_5, sed_orange_5, sed_blue_5, None)],
    1: [(sed_wave_1, sed_orange_1, sed_blue_1_gmm, None),
        (sed_wave_2, sed_orange_2, sed_blue_2, sed_sigma_2),
        (sed_wave_3, sed_orange_3, sed_blue_3_gmm, None),
        (sed_wave_4, sed_orange_4, sed_blue_4, sed_sigma_4),
        (sed_wave_5, sed_orange_5, sed_blue_5, None)],
}
for p in (0, 1):
    for r, (wv, lo_or, lo_bl, sig) in enumerate(sed_sets[p]):
        k = kidx(p, r, 2)
        f_bl = 10 ** np.array(lo_bl)
        f_or = 10 ** np.array(lo_or)
        s = np.array(sig) if sig is not None else SED_SIGMA
        add_band(k, wv, f_bl * (1 - s), f_bl * (1 + s))
        add_line(k, wv, f_bl, TAB10[0], width=2.2)
        add_line(k, wv, f_or, TAB10[1], width=2.2)

# ------------------------------------------------------------------ axes
TICKFONT = dict(family=SERIF, size=19, color='black')


def base_axis():
    return dict(showline=True, linecolor='black', linewidth=1.3, mirror=True,
                ticks='inside', ticklen=5, tickwidth=1.1, tickcolor='black',
                showgrid=False, zeroline=False, tickfont=dict(TICKFONT))


lin_y = {
    (0, 0): ([0.00013, 0.00254], [0.001, 0.002], ['0.001', '0.002']),
    (0, 1): ([0.022, 0.373], [0.1, 0.2, 0.3], ['0.1', '0.2', '0.3']),
    (0, 2): ([-0.009, 0.2815], [0, 0.25], ['0.00', '0.25']),
    (0, 3): ([0.0156, 0.111], [0.05, 0.10], ['0.05', '0.10']),
    (0, 4): ([-0.014, 0.4167], [0, 0.25], ['0.00', '0.25']),
    (1, 0): ([-0.004, 0.084], [0, 0.05], ['0.00', '0.05']),
    (1, 1): ([0.031, 0.41], [0.2, 0.4], ['0.2', '0.4']),
    (1, 2): ([-0.005, 0.273], [0, 0.25], ['0.00', '0.25']),
    (1, 3): ([0.0204, 0.131], [0.05, 0.10], ['0.05', '0.10']),
    (1, 4): ([-0.0056, 0.425], [0, 0.25], ['0.00', '0.25']),
}
pz_y = {
    (0, 0): ([-0.001, 0.0191], [0, 0.01], ['0.00', '0.01']),
    (0, 1): ([-0.07, 1.2], [0, 1], ['0', '1']),
    (0, 2): ([-0.055, 1.325], [0, 1], ['0', '1']),
    (0, 3): ([-0.012, 0.27], [0, 0.25], ['0.00', '0.25']),
    (0, 4): ([-0.025, 0.568], [0, 0.5], ['0.0', '0.5']),
    (1, 0): ([-0.014, 0.318], [0, 0.25], ['0.00', '0.25']),
    (1, 1): ([-0.076, 1.62], [0, 1], ['0', '1']),
    (1, 2): ([-0.04, 1.092], [0, 1], ['0', '1']),
    (1, 3): ([-0.022, 0.457], [0, 0.25], ['0.00', '0.25']),
    (1, 4): ([-0.02, 0.71], [0, 0.5], ['0.0', '0.5']),
}
sed_logrange = [[-0.66, 0.50], [-1.75, 0.54], [-1.55, -0.10], [-1.46, 0.50], [-0.52, 0.64]]

x_cfg = {
    (0, 0): ([17.775, 22.725], [18, 19.5, 21, 22.5], ['18.0', '19.5', '21.0', '22.5']),
    (1, 0): ([17.775, 22.725], [18, 19.5, 21, 22.5], ['18.0', '19.5', '21.0', '22.5']),
    (0, 1): ([-0.085, 2.02], [0, 1, 2], ['0', '1', '2']),
    (1, 1): ([-0.085, 2.09], [0, 0.5, 1, 1.5, 2], ['0.0', '0.5', '1.0', '1.5', '2.0']),
    (0, 2): ([968, 10000], [2500, 5000, 7500, 10000], ['2500', '5000', '7500', '10000']),
    (1, 2): ([1035, 10000], [2000, 4000, 6000, 8000, 10000], ['2000', '4000', '6000', '8000', '10000']),
}

layout_axes = {}
for p in (0, 1):
    g = PANEL_GEOM[p]
    for r in range(5):
        ytop = g['top'] + r * ROW_STEP
        ybot = ytop + ROW_H
        for c in range(3):
            k = kidx(p, r, c)
            xa, ya = ax_ids(k)
            x0, x1 = g['cols'][c]
            xr, xt, xl = x_cfg[(p, c)]
            xax = base_axis()
            xax.update(domain=[x0 / FIG_W, x1 / FIG_W], anchor=ya, range=xr,
                       tickmode='array', tickvals=xt, ticktext=xl,
                       showticklabels=(r == 4))
            yax = base_axis()
            yax.update(domain=[1 - ybot / FIG_H, 1 - ytop / FIG_H], anchor=xa)
            if c == 0:
                yr, yt, yl = lin_y[(p, r)]
                yax.update(range=yr, tickmode='array', tickvals=yt, ticktext=yl)
            elif c == 1:
                yr, yt, yl = pz_y[(p, r)]
                yax.update(range=yr, tickmode='array', tickvals=yt, ticktext=yl)
            else:
                lr = sed_logrange[r]
                majors, labels = [], []
                for v, t in [(0.01, '10<sup>−2</sup>'), (0.1, '10<sup>−1</sup>'), (1.0, '10<sup>0</sup>')]:
                    if lr[0] <= np.log10(v) <= lr[1]:
                        majors.append(v)
                        labels.append(t)
                minors = [m * 10.0 ** e for e in (-2, -1, 0) for m in range(2, 10)
                          if lr[0] <= np.log10(m * 10.0 ** e) <= lr[1]]
                yax.update(type='log', range=lr, tickmode='array', tickvals=majors, ticktext=labels,
                           minor=dict(tickmode='array', tickvals=minors, ticks='inside',
                                      ticklen=2.5, tickwidth=0.8, tickcolor='black'))
            layout_axes['xaxis' if k == 1 else f'xaxis{k}'] = xax
            layout_axes['yaxis' if k == 1 else f'yaxis{k}'] = yax

# ------------------------------------------------------------ annotations
ann = []


def text(x, y, s, size, anchor='middle'):
    ann.append(dict(x=x / FIG_W, y=1 - y / FIG_H, xref='paper', yref='paper', text=s,
                    showarrow=False, xanchor='center', yanchor=anchor,
                    font=dict(family=SERIF, size=size, color='black')))


text(576, 16, 'HM: simple prior, 2 interp SEDs, with SED corrections, variance, magerr corr', 30)
text(588, 461, 'HM: GMM prior, 2 interp SEDs, with SED corrections, variance, magerr corr', 30)

col_titles = ['<i>p</i>(<i>t</i>|<i>m</i>)', '<i>p</i>(<i>z</i>|<i>t</i>, <i>m</i>)', 'SEDs']
x_titles = ['<i>i</i> mag', 'Redshift', 'λ [Å]']
for p, (ty, xty) in enumerate([(49, 394), (492, 838)]):
    for c in range(3):
        x0, x1 = PANEL_GEOM[p]['cols'][c]
        text((x0 + x1) / 2, ty, col_titles[c], 21)
        text((x0 + x1) / 2, xty, x_titles[c], 21)

fig.update_layout(
    width=FIG_W, height=FIG_H, margin=dict(l=0, r=0, t=0, b=0),
    paper_bgcolor='white', plot_bgcolor='white',
    font=dict(family=SERIF, color='black'),
    annotations=ann, showlegend=False,
    **layout_axes,
)

# page body without the default 8px margin so the figure sits at the window origin
fig.write_html("out.html",
               post_script="document.body.style.margin='0';document.body.style.overflow='hidden';")
